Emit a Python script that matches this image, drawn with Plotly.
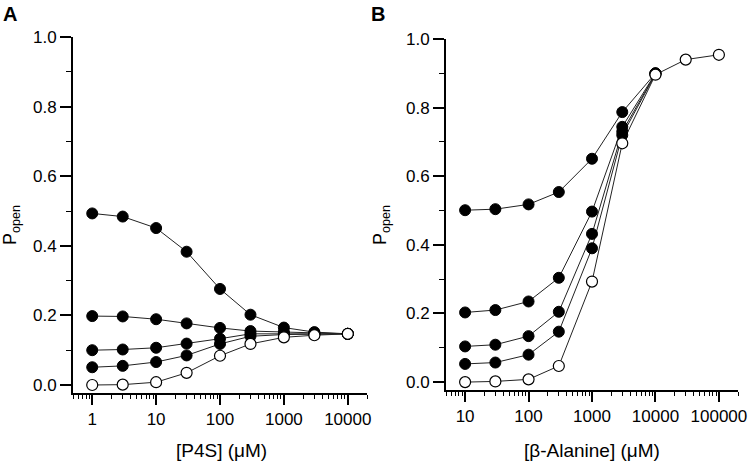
import plotly.graph_objects as go

# ---------- Data ----------
p4s_conc = [1, 3, 10, 30, 100, 300, 1000, 3000, 10000]
p4s_s1 = [0.493, 0.484, 0.451, 0.383, 0.276, 0.202, 0.165, 0.152, 0.147]
p4s_s2 = [0.198, 0.197, 0.189, 0.177, 0.164, 0.155, 0.152, 0.149, 0.147]
p4s_s3 = [0.100, 0.102, 0.107, 0.119, 0.133, 0.147, 0.148, 0.147, 0.147]
p4s_s4 = [0.051, 0.055, 0.066, 0.085, 0.118, 0.140, 0.145, 0.146, 0.147]
p4s_open = [0.000, 0.001, 0.008, 0.035, 0.084, 0.118, 0.137, 0.143, 0.147]

ala_conc = [10, 30, 100, 300, 1000, 3000, 10000, 30000, 100000]
ala_s1 = [0.501, 0.504, 0.518, 0.554, 0.651, 0.787, 0.900]
ala_s2 = [0.203, 0.210, 0.235, 0.304, 0.497, 0.744, 0.900]
ala_s3 = [0.104, 0.109, 0.134, 0.205, 0.432, 0.730, 0.899]
ala_s4 = [0.053, 0.057, 0.080, 0.147, 0.390, 0.720, 0.898]
ala_open = [0.000, 0.002, 0.008, 0.047, 0.293, 0.696, 0.896, 0.940, 0.954]

p4s_ticks = [1, 10, 100, 1000, 10000]
p4s_ticktext = ["1", "10", "100", "1000", "10000"]
ala_ticks = [10, 100, 1000, 10000, 100000]
ala_ticktext = ["10", "100", "1000", "10000", "100000"]
y_ticks = [0.0, 0.2, 0.4, 0.6, 0.8, 1.0]
y_ticktext = ["0.0", "0.2", "0.4", "0.6", "0.8", "1.0"]

FONT = "Liberation Sans, Arial, sans-serif"
W, H = 749, 461
LINE_C = "#222222"
MS = 11

fig = go.Figure()

def add_panel(xs, filled, opened, xa, ya):
    for ser in filled + [opened]:
        fig.add_trace(go.Scatter(x=xs[:len(ser)], y=ser, mode="lines",
                                 line=dict(color=LINE_C, width=1),
                                 xaxis=xa, yaxis=ya, showlegend=False, hoverinfo="skip"))
    for ser in filled:
        fig.add_trace(go.Scatter(x=xs[:len(ser)], y=ser, mode="markers",
                                 marker=dict(size=MS, color="black", line=dict(color="black", width=1)),
                                 xaxis=xa, yaxis=ya, showlegend=False))
    fig.add_trace(go.Scatter(x=xs[:len(opened)], y=opened, mode="markers",
                             marker=dict(size=MS, color="white", line=dict(color="black", width=1.2)),
                             xaxis=xa, yaxis=ya, showlegend=False))

add_panel(p4s_conc, [p4s_s1, p4s_s2, p4s_s3, p4s_s4], p4s_open, "x", "y")
add_panel(ala_conc, [ala_s1, ala_s2, ala_s3, ala_s4], ala_open, "x2", "y2")

def px_x(p):
    return p / W

def px_y(p):
    return (H - p) / H

common_x = dict(type="log", showline=True, linecolor="black", linewidth=2,
                ticks="outside", ticklen=10, tickwidth=1.8, tickcolor="black",
                showgrid=False, zeroline=False, automargin=False,
                tickfont=dict(family=FONT, size=17, color="black"),
                minor=dict(ticks="outside", ticklen=4, tickwidth=1.4, tickcolor="black",
                           dtick="D1", showgrid=False))
common_y = dict(range=[-0.023, 1.0], showline=True, linecolor="black", linewidth=2,
                ticks="outside", ticklen=11, tickwidth=1.8, tickcolor="black",
                showgrid=False, zeroline=False, automargin=False,
                tickmode="array", tickvals=y_ticks, ticktext=y_ticktext,
                tickfont=dict(family=FONT, size=17, color="black"),
                minor=dict(ticks="outside", ticklen=5, tickwidth=1.4, tickcolor="black",
                           dtick=0.1, showgrid=False))

fig.update_layout(
    width=W, height=H, autosize=False,
    margin=dict(l=0, r=0, t=0, b=0, pad=0),
    paper_bgcolor="white", plot_bgcolor="white",
    xaxis=dict(common_x, domain=[px_x(73), px_x(367)], range=[-0.301, 4.301],
               tickmode="array", tickvals=p4s_ticks, ticktext=p4s_ticktext, anchor="y"),
    yaxis=dict(common_y, domain=[px_y(393), px_y(37)], anchor="x"),
    xaxis2=dict(common_x, domain=[px_x(446), px_x(738)], range=[0.699, 5.301],
                tickmode="array", tickvals=ala_ticks, ticktext=ala_ticktext, anchor="y2"),
    yaxis2=dict(common_y, domain=[px_y(390), px_y(39)], anchor="x2"),
)

title_font = dict(family=FONT, size=19, color="black")
ylab_font = dict(family=FONT, size=18, color="black")
annotations = [
    dict(text="<b>A</b>", x=px_x(10), y=px_y(14), font=dict(family=FONT, size=20, color="black")),
    dict(text="<b>B</b>", x=px_x(378), y=px_y(14), font=dict(family=FONT, size=20, color="black")),
    dict(text="[P4S] (μM)", x=px_x(221), y=px_y(450), font=title_font),
    dict(text="[β-Alanine] (μM)", x=px_x(592), y=px_y(450), font=title_font),
    dict(text="P<sub>open</sub>", x=px_x(11), y=px_y(225), textangle=-90, font=ylab_font),
    dict(text="P<sub>open</sub>", x=px_x(381), y=px_y(225), textangle=-90, font=ylab_font),
]
for a in annotations:
    a.update(xref="paper", yref="paper", showarrow=False, xanchor="center", yanchor="middle")
fig.update_layout(annotations=annotations)

fig.write_html(
    "out.html",
    config={"displayModeBar": False},
    post_script="document.body.style.margin='0px';document.body.style.overflow='hidden';"
                "document.documentElement.style.overflow='hidden';",
)
